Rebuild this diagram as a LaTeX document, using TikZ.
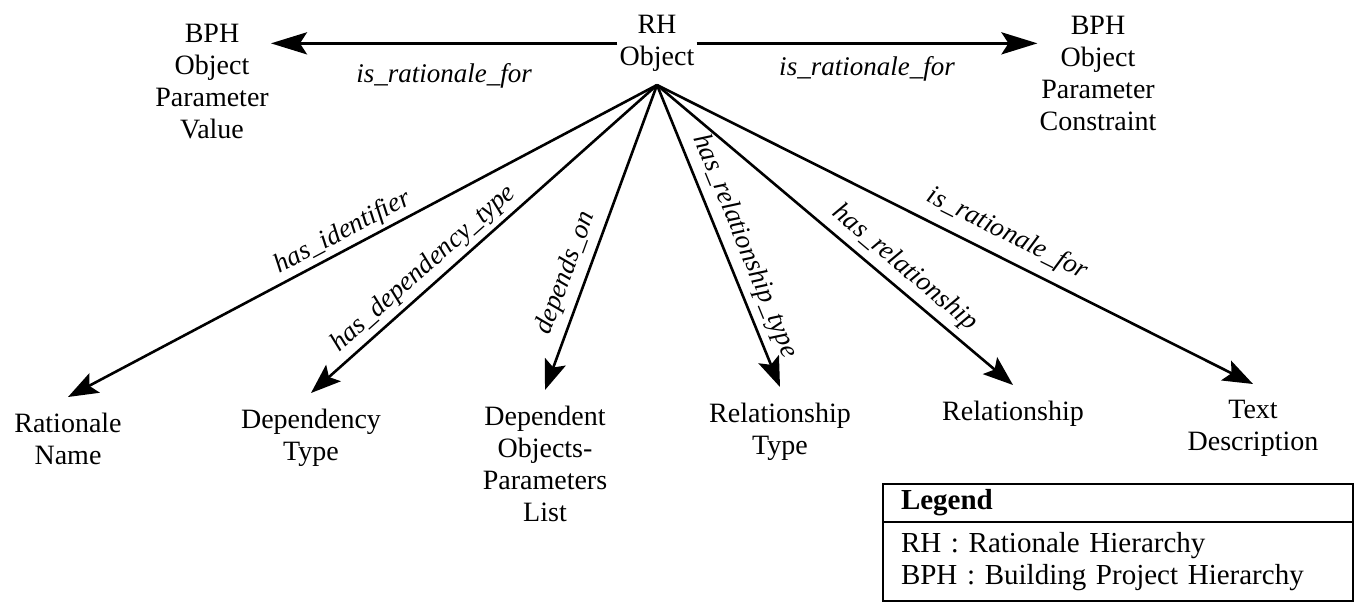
\documentclass[tikz,border=0pt]{standalone}
\usepackage{fontspec}
\setmainfont{Liberation Serif}
\usetikzlibrary{arrows.meta}
\begin{document}
\begin{tikzpicture}[x=1pt,y=-1pt,
  every node/.style={font=\fontsize{28}{32}\selectfont, inner sep=0pt},
  entity/.style={align=center, inner xsep=2pt, inner ysep=4pt},
  target/.style={align=center, inner xsep=2pt, inner ysep=16pt},
  link/.style={line width=2.6pt, -{Stealth[length=30pt,width=22pt,inset=6pt]}},
  toplink/.style={line width=3.2pt, -{Stealth[length=36pt,width=22pt,inset=7pt]}},
  rel/.style={font=\fontsize{27}{30}\selectfont\itshape, inner xsep=0pt, inner ysep=3pt},
  legframe/.style={draw, line width=2.2pt, outer sep=0pt, anchor=north west,
                   text width=434pt, inner xsep=18pt, align=left,
                   font=\fontsize{29}{32}\selectfont}
]
\useasboundingbox (0,0) rectangle (1363,603);

% central object and the two hierarchy objects it explains
\node[entity, anchor=north] (rh) at (657,11) {RH\\Object};
\coordinate (apex) at (657,85);
\node[entity, anchor=north] (bphv) at (212,20) {BPH\\Object\\Parameter\\Value};
\node[entity, anchor=north] (bphc) at (1098,12) {BPH\\Object\\Parameter\\Constraint};

% attribute objects
\node[target, anchor=north] (rn)  at (68,397)   {Rationale\\Name};
\node[target, anchor=north] (dt)  at (311,393)  {Dependency\\Type};
\node[target, anchor=north] (dop) at (545,390)  {Dependent\\Objects-\\Parameters\\List};
\node[target, anchor=north] (rt)  at (780,387)  {Relationship\\Type};
\node[target, anchor=north] (rl)  at (1013,385) {Relationship};
\node[target, anchor=north] (td)  at (1253,384) {Text\\Description};

% horizontal relations
\draw[toplink] (rh.west) -- (bphv.east |- rh.west)
  node[rel, midway, below=16pt] {is\_rationale\_for};
\draw[toplink] (rh.east) -- (bphc.west |- rh.east)
  node[rel, midway, below=9pt] {is\_rationale\_for};

% fan of relations
\draw[link] (apex) -- (rn.north)
  node[rel, pos=0.52, sloped, above, inner ysep=3pt] {has\_identifier};
\draw[link] (apex) -- (dt.north)
  node[rel, pos=0.64, sloped, above, inner ysep=4pt] {has\_dependency\_type};
\draw[link] (apex) -- (dop.north)
  node[rel, pos=0.64, sloped, above, inner ysep=7pt] {depends\_on};
\draw[link] (apex) -- (rt.north)
  node[rel, pos=0.56, sloped, above, inner ysep=7pt] {has\_relationship\_type};
\draw[link] (apex) -- (rl.north)
  node[rel, pos=0.66, sloped, above, inner ysep=6pt] {has\_relationship};
\draw[link] (apex) -- (td.north)
  node[rel, pos=0.57, sloped, above, inner ysep=10pt] {is\_rationale\_for};

% legend
\node[legframe, minimum height=38pt] (leghead) at (883,484) {\bfseries Legend};
\node[legframe, minimum height=79pt] (legbody) at (leghead.south west)
  {RH : Rationale Hierarchy\\BPH : Building Project Hierarchy};
\end{tikzpicture}
\end{document}
